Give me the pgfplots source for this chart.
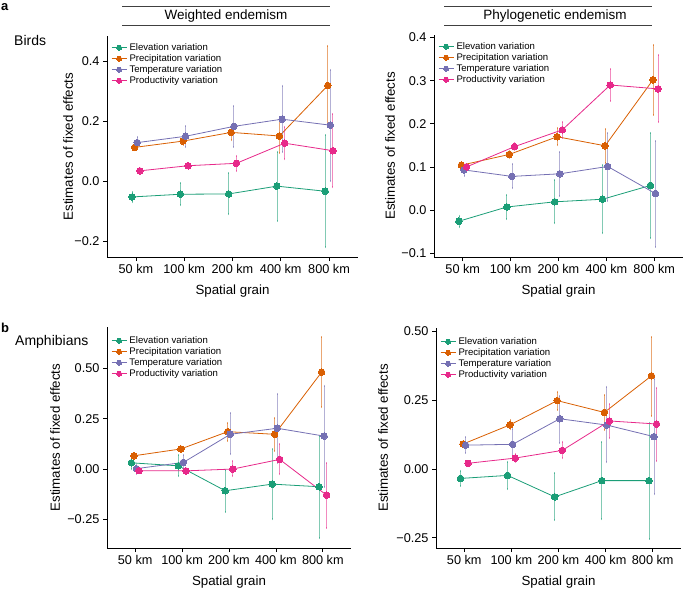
\documentclass[border=0pt]{standalone}
\usepackage{fontspec}
\setmainfont{Liberation Sans}
\usepackage{pgfplots}
\usepackage{pgfplotstable}
\pgfplotsset{compat=1.18}
\definecolor{cE}{HTML}{1B9E77}
\definecolor{cP}{HTML}{D95F02}
\definecolor{cT}{HTML}{7570B3}
\definecolor{cR}{HTML}{E7298A}

% columns: g = grain index; e/p/t/r = elevation/precipitation/temperature/productivity; y = estimate, h = upper, l = lower
\pgfplotstableread{
g ey eh el py ph pl ty th tl ry rh rl
0 -0.053 -0.037 -0.071 0.112 0.122 0.102 0.128 0.145 0.110 0.034 0.040 0.028
1 -0.044 -0.008 -0.081 0.133 0.145 0.121 0.149 0.183 0.113 0.051 0.060 0.042
2 -0.043 0.026 -0.111 0.162 0.181 0.135 0.182 0.250 0.114 0.059 0.084 0.034
3 -0.017 0.098 -0.132 0.150 0.209 0.094 0.206 0.318 0.096 0.126 0.180 0.072
4 -0.034 0.153 -0.221 0.318 0.450 0.187 0.186 0.370 0.001 0.101 0.222 -0.021
}\tabA
\pgfplotstableread{
g ey eh el py ph pl ty th tl ry rh rl
0 -0.026 -0.013 -0.040 0.104 0.110 0.098 0.093 0.104 0.079 0.100 0.106 0.094
1 0.007 0.035 -0.021 0.129 0.138 0.120 0.078 0.107 0.050 0.147 0.155 0.139
2 0.019 0.070 -0.031 0.170 0.190 0.150 0.084 0.134 0.033 0.186 0.204 0.167
3 0.025 0.104 -0.054 0.149 0.187 0.110 0.101 0.178 0.022 0.290 0.327 0.253
4 0.057 0.179 -0.066 0.302 0.383 0.221 0.038 0.160 -0.085 0.281 0.360 0.204
}\tabB
\pgfplotstableread{
g ey eh el py ph pl ty th tl ry rh rl
0 0.031 0.050 0.000 0.066 0.075 0.057 0.002 0.022 -0.025 -0.008 0.000 -0.016
1 0.016 0.070 -0.035 0.100 0.115 0.085 0.033 0.070 0.000 -0.009 0.000 -0.018
2 -0.108 -0.005 -0.213 0.186 0.228 0.141 0.173 0.277 0.073 0.000 0.040 -0.035
3 -0.075 0.098 -0.251 0.173 0.253 0.091 0.203 0.374 0.030 0.048 0.123 -0.026
4 -0.088 0.164 -0.345 0.482 0.656 0.307 0.164 0.415 -0.088 -0.130 0.028 -0.291
}\tabC
\pgfplotstableread{
g ey eh el py ph pl ty th tl ry rh rl
0 -0.034 -0.006 -0.061 0.091 0.100 0.082 0.087 0.115 0.059 0.021 0.028 0.014
1 -0.023 0.027 -0.073 0.161 0.178 0.144 0.090 0.145 0.035 0.040 0.055 0.027
2 -0.101 -0.016 -0.186 0.249 0.282 0.215 0.183 0.267 0.096 0.068 0.100 0.039
3 -0.042 0.097 -0.183 0.206 0.269 0.142 0.160 0.300 0.024 0.175 0.236 0.112
4 -0.042 0.169 -0.254 0.339 0.480 0.194 0.118 0.328 -0.092 0.164 0.296 0.029
}\tabD

\pgfplotsset{
  panel/.style={
    scale only axis,
    axis x line*=bottom, axis y line*=left,
    axis line style={-, line width=0.8pt, black},
    tick align=outside, major tick length=4pt,
    tick style={line width=0.8pt, black},
    xmin=-0.6, xmax=4.6,
    xtick={0,1,2,3,4},
    xticklabels={50 km,100 km,200 km,400 km,800 km},
    ticklabel style={font=\fontsize{12.7}{14}\selectfont},
    label style={font=\fontsize{13.3}{15}\selectfont},
    xlabel={Spatial grain},
    ylabel={Estimates of fixed effects},
    xlabel style={at={([yshift=-37pt]axis description cs:0.5,0)}, anchor=base},
    legend cell align=left,
    legend style={draw=none, fill=none, font=\fontsize{9.6}{11}\selectfont,
      at={(axis description cs:0,1)}, anchor=north west, xshift=4pt, yshift=-7pt,
      inner sep=0pt, row sep=2pt,
      nodes={inner ysep=0pt, inner xsep=2.5pt, text height=7pt, text depth=2pt}},
    legend image code/.code={\draw[##1, mark size=2.5pt, mark repeat=2, mark phase=2] plot coordinates {(0pt,0pt) (7.5pt,0pt) (15pt,0pt)};},
  },
  ser/.style={color=#1, mark=*, mark size=3.3pt, line width=0.8pt,
    mark options={solid, fill=#1, draw=#1, line width=0pt},
    error bars/.cd, y dir=both, y explicit,
    error bar style={line width=0.8pt, opacity=0.55},
    error mark options={mark size=1pt, line width=0.8pt}},
}
\newcommand\series[4]{\addplot[ser=#4] table[x expr=\thisrow{g}#3, y=#2y,
  y error plus expr=\thisrow{#2h}-\thisrow{#2y},
  y error minus expr=\thisrow{#2y}-\thisrow{#2l}] {#1};}
\newcommand\allseries[1]{%
  \series{#1}{e}{-0.08}{cE}
  \series{#1}{p}{-0.027}{cP}
  \series{#1}{t}{+0.027}{cT}
  \series{#1}{r}{+0.08}{cR}
  \legend{Elevation variation, Precipitation variation, Temperature variation, Productivity variation}}

\begin{document}
\begin{tikzpicture}
\path[use as bounding box] (0,0) rectangle (685pt,-589pt);

\begin{axis}[panel, at={(107pt,-257pt)}, anchor=south west, width=251pt, height=221pt,
  ymin=-0.253, ymax=0.483, ytick={-0.2,0,0.2,0.4}, yticklabels={−0.2,0.0,0.2,0.4},
  ylabel style={at={([xshift=-39pt]axis description cs:0,0.5)}, anchor=center}]
\allseries{\tabA}
\end{axis}

\begin{axis}[panel, at={(434pt,-257pt)}, anchor=south west, width=249pt, height=222pt,
  ymin=-0.109, ymax=0.406, ytick={-0.1,0,0.1,0.2,0.3,0.4}, yticklabels={−0.1,0.0,0.1,0.2,0.3,0.4},
  ylabel style={at={([xshift=-44pt]axis description cs:0,0.5)}, anchor=center}]
\allseries{\tabB}
\end{axis}

\begin{axis}[panel, at={(107pt,-548pt)}, anchor=south west, width=244pt, height=221pt,
  ymin=-0.393, ymax=0.707, ytick={-0.25,0,0.25,0.5}, yticklabels={−0.25,0.00,0.25,0.50},
  ylabel style={at={([xshift=-52pt]axis description cs:0,0.5)}, anchor=center},
  legend style={yshift=-2pt}]
\allseries{\tabC}
\end{axis}

\begin{axis}[panel, at={(436pt,-548pt)}, anchor=south west, width=245pt, height=220pt,
  ymin=-0.287, ymax=0.513, ytick={-0.25,0,0.25,0.5}, yticklabels={−0.25,0.00,0.25,0.50},
  ylabel style={at={([xshift=-53pt]axis description cs:0,0.5)}, anchor=center},
  legend style={yshift=-2pt}]
\allseries{\tabD}
\end{axis}

% panel headers
\draw[line width=0.6pt, black!75] (122pt,-6pt) -- (330pt,-6pt) (122pt,-25pt) -- (330pt,-25pt);
\node[font=\fontsize{13.5}{16}\selectfont] at (226pt,-16pt) {Weighted endemism};
\draw[line width=0.6pt, black!75] (444pt,-6pt) -- (652pt,-6pt) (444pt,-25pt) -- (652pt,-25pt);
\node[font=\fontsize{13.5}{16}\selectfont] at (555pt,-16pt) {Phylogenetic endemism};

\node[font=\fontsize{13}{15}\selectfont\bfseries, anchor=base west, inner sep=0pt] at (1pt,-10pt) {a};
\node[font=\fontsize{13}{15}\selectfont\bfseries, anchor=base west, inner sep=0pt] at (1pt,-332pt) {b};
\node[font=\fontsize{14}{16}\selectfont, anchor=base west, inner sep=0pt] at (14pt,-45pt) {Birds};
\node[font=\fontsize{14}{16}\selectfont, anchor=base west, inner sep=0pt] at (15pt,-345pt) {Amphibians};
\end{tikzpicture}
\end{document}
